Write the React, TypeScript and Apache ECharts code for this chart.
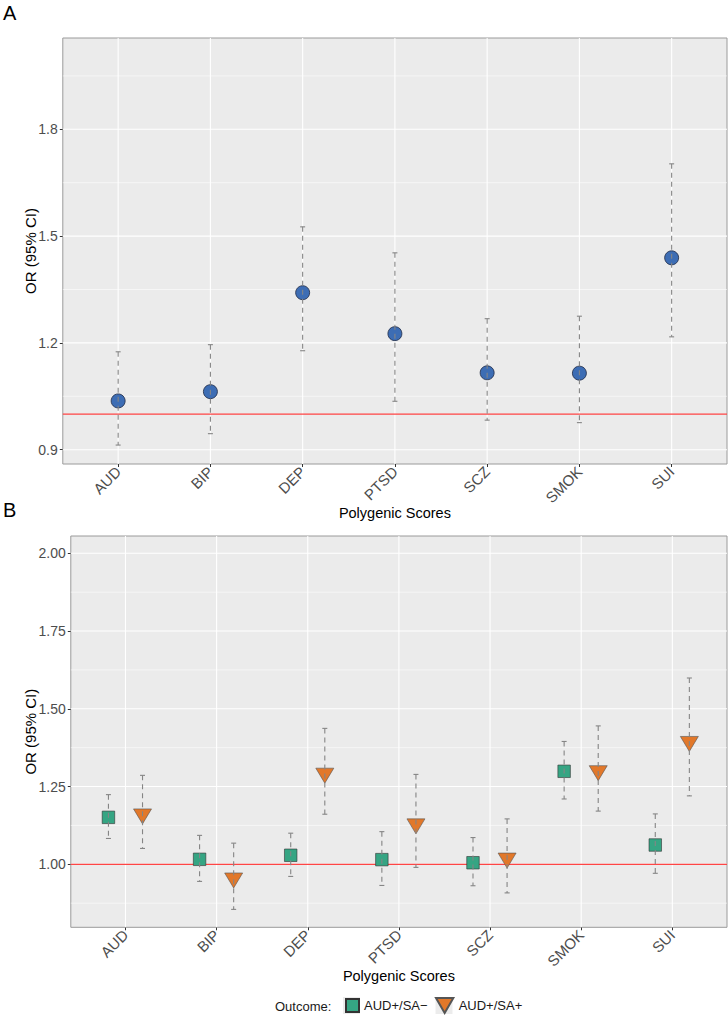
import React, { useEffect, useRef } from 'react';
import * as echarts from 'echarts';

// ---------- data ----------
const categories = ['AUD', 'BIP', 'DEP', 'PTSD', 'SCZ', 'SMOK', 'SUI'];

// Panel A
const orA = [1.037, 1.063, 1.341, 1.226, 1.116, 1.115, 1.439];
const lowA = [0.913, 0.945, 1.178, 1.036, 0.983, 0.976, 1.217];
const highA = [1.175, 1.195, 1.526, 1.453, 1.268, 1.275, 1.703];

// Panel B
const legendNames = ['AUD+/SA−', 'AUD+/SA+'];
const orNeg = [1.151, 1.016, 1.029, 1.015, 1.005, 1.299, 1.062];
const lowNeg = [1.083, 0.945, 0.961, 0.932, 0.931, 1.21, 0.971];
const highNeg = [1.224, 1.093, 1.1, 1.105, 1.086, 1.395, 1.162];
const orPos = [1.162, 0.956, 1.293, 1.13, 1.02, 1.301, 1.395];
const lowPos = [1.051, 0.855, 1.161, 0.99, 0.908, 1.171, 1.22];
const highPos = [1.286, 1.068, 1.437, 1.289, 1.146, 1.445, 1.599];

// ticks
const ticksA = [0.9, 1.2, 1.5, 1.8];
const minorTicksA = [1.05, 1.35, 1.65, 1.95];
const ticksB = [1.0, 1.25, 1.5, 1.75, 2.0];
const minorTicksB = [0.875, 1.125, 1.375, 1.625, 1.875];
const refValue = 1.0;
const rangeA = [0.8598, 2.0565];
const rangeB = [0.7974, 2.0556];
const xRange = [-0.6, 6.6];
const dodge = 0.187;

const FONT = '"Liberation Sans", Arial, Helvetica, sans-serif';

function gridLineData(ticks: number[], minor: number[]) {
  const d: number[][] = [];
  categories.forEach((_, i) => d.push([0, i, 1.1]));
  ticks.forEach((v) => d.push([1, v, 1.1]));
  minor.forEach((v) => d.push([1, v, 0.55]));
  return d;
}

function makeGridSeries(idx: number, yMin: number, data: number[][]) {
  return {
    type: 'custom',
    xAxisIndex: idx,
    yAxisIndex: idx,
    z: 1,
    silent: true,
    data,
    renderItem: (params: any, api: any) => {
      const cs = params.coordSys;
      const orient = api.value(0);
      const v = api.value(1);
      const w = api.value(2);
      if (orient === 0) {
        const x = api.coord([v, yMin])[0];
        return {
          type: 'line',
          shape: { x1: x, y1: cs.y, x2: x, y2: cs.y + cs.height },
          style: { stroke: '#ffffff', lineWidth: w },
        };
      }
      const y = api.coord([0, v])[1];
      return {
        type: 'line',
        shape: { x1: cs.x, y1: y, x2: cs.x + cs.width, y2: y },
        style: { stroke: '#ffffff', lineWidth: w },
      };
    },
  };
}

function makeRefSeries(idx: number) {
  return {
    type: 'custom',
    xAxisIndex: idx,
    yAxisIndex: idx,
    z: 2,
    silent: true,
    data: [[0, refValue]],
    renderItem: (params: any, api: any) => {
      const cs = params.coordSys;
      const y = api.coord([0, api.value(1)])[1];
      return {
        type: 'line',
        shape: { x1: cs.x, y1: y, x2: cs.x + cs.width, y2: y },
        style: { stroke: '#ff4545', lineWidth: 1.2 },
      };
    },
  };
}

function makeErrSeries(idx: number, data: number[][]) {
  return {
    type: 'custom',
    xAxisIndex: idx,
    yAxisIndex: idx,
    z: 4,
    silent: true,
    encode: { x: 0, y: [1, 2] },
    data,
    renderItem: (params: any, api: any) => {
      const x = api.value(0);
      const p1 = api.coord([x, api.value(2)]);
      const p2 = api.coord([x, api.value(1)]);
      const st = { stroke: '#858585', lineWidth: 1.1 };
      return {
        type: 'group',
        children: [
          {
            type: 'line',
            shape: { x1: p1[0], y1: p1[1], x2: p2[0], y2: p2[1] },
            style: { ...st, lineDash: [5, 4] },
          },
          {
            type: 'line',
            shape: { x1: p1[0] - 2.5, y1: p1[1], x2: p1[0] + 2.5, y2: p1[1] },
            style: st,
          },
          {
            type: 'line',
            shape: { x1: p2[0] - 2.5, y1: p2[1], x2: p2[0] + 2.5, y2: p2[1] },
            style: st,
          },
        ],
      };
    },
  };
}

const TRI = 'path://M0,0L20,0L10,17.32Z';

function xAxisCfg(idx: number) {
  const idxs = categories.map((_, i) => i);
  return {
    type: 'value',
    gridIndex: idx,
    min: xRange[0],
    max: xRange[1],
    splitLine: { show: false },
    axisLine: { show: false, onZero: false },
    axisTick: { show: true, length: 3, lineStyle: { color: '#333333' }, customValues: idxs },
    axisLabel: {
      customValues: idxs,
      formatter: (v: number) => categories[Math.round(v)],
      rotate: 45,
      fontSize: 15,
      color: '#4d4d4d',
      margin: 5,
      fontFamily: FONT,
    },
    name: 'Polygenic Scores',
    nameLocation: 'middle',
    nameGap: 41,
    nameMoveOverlap: false,
    nameTextStyle: { fontSize: 14.5, color: '#000000', fontFamily: FONT },
  };
}

function yAxisCfg(idx: number, range: number[], ticks: number[], digits: number, gap: number) {
  return {
    type: 'value',
    gridIndex: idx,
    min: range[0],
    max: range[1],
    splitLine: { show: false },
    axisLine: { show: false, onZero: false },
    axisTick: { show: true, length: 3, lineStyle: { color: '#333333' }, customValues: ticks },
    axisLabel: {
      customValues: ticks,
      formatter: (v: number) => v.toFixed(digits),
      fontSize: 14,
      color: '#4d4d4d',
      margin: 5,
      fontFamily: FONT,
    },
    name: 'OR (95% CI)',
    nameLocation: 'middle',
    nameRotate: 90,
    nameGap: gap,
    nameMoveOverlap: false,
    nameTextStyle: { fontSize: 15, color: '#000000', fontFamily: FONT },
  };
}

export default function App() {
  const ref = useRef<HTMLDivElement>(null);
  useEffect(() => {
    if (!ref.current) return;
    const chart = echarts.init(ref.current, undefined, { renderer: 'svg' });
    const gridStyle = {
      show: true,
      backgroundColor: '#ebebeb',
      borderColor: '#9a9a9a',
      borderWidth: 1,
      outerBoundsMode: 'none',
      containLabel: false,
    };
    const option: any = {
      animation: false,
      backgroundColor: '#ffffff',
      textStyle: { fontFamily: FONT },
      grid: [
        { ...gridStyle, left: 62.8, top: 38, right: 1, height: 426 },
        { ...gridStyle, left: 70.8, top: 536, right: 1, height: 391.3 },
      ],
      xAxis: [xAxisCfg(0), xAxisCfg(1)],
      yAxis: [yAxisCfg(0, rangeA, ticksA, 1, 25), yAxisCfg(1, rangeB, ticksB, 2, 33)],
      legend: [
        {
          data: [{ name: legendNames[0], icon: 'rect' }],
          left: 345,
          top: 998,
          padding: 0,
          itemWidth: 13,
          itemHeight: 13,
          itemGap: 5,
          selectedMode: false,
          textStyle: { fontSize: 13, color: '#1a1a1a', fontFamily: FONT },
        },
        {
          data: [{ name: legendNames[1], icon: TRI }],
          left: 435,
          top: 997,
          padding: 0,
          itemWidth: 18,
          itemHeight: 15,
          itemGap: 5,
          selectedMode: false,
          textStyle: { fontSize: 13, color: '#1a1a1a', fontFamily: FONT },
        },
      ],
      graphic: [
        {
          type: 'rect',
          z: 0,
          shape: { x: 343, y: 997, width: 17, height: 17 },
          style: { fill: '#ececec' },
        },
        {
          type: 'rect',
          z: 0,
          shape: { x: 435.5, y: 997, width: 17, height: 17 },
          style: { fill: '#ececec' },
        },
        {
          type: 'text',
          x: 3,
          y: 13,
          style: { text: 'A', fontSize: 20, fill: '#000', fontFamily: FONT, verticalAlign: 'middle' },
        },
        {
          type: 'text',
          x: 3,
          y: 510,
          style: { text: 'B', fontSize: 20, fill: '#000', fontFamily: FONT, verticalAlign: 'middle' },
        },
        {
          type: 'text',
          x: 275,
          y: 1006,
          style: { text: 'Outcome:', fontSize: 13, fill: '#1a1a1a', fontFamily: FONT, verticalAlign: 'middle' },
        },
      ],
      series: [
        makeGridSeries(0, rangeA[0], gridLineData(ticksA, minorTicksA)),
        makeRefSeries(0),
        {
          type: 'scatter',
          name: 'OR',
          xAxisIndex: 0,
          yAxisIndex: 0,
          z: 3,
          symbol: 'circle',
          symbolSize: 14,
          itemStyle: { color: '#3d6db4', borderColor: '#1f2a44', borderWidth: 0.8, opacity: 1 },
          data: orA.map((v, i) => [i, v]),
        },
        makeErrSeries(0, orA.map((_, i) => [i, lowA[i], highA[i]])),

        makeGridSeries(1, rangeB[0], gridLineData(ticksB, minorTicksB)),
        makeRefSeries(1),
        {
          type: 'scatter',
          name: legendNames[0],
          xAxisIndex: 1,
          yAxisIndex: 1,
          z: 3,
          symbol: 'rect',
          symbolSize: 12.5,
          itemStyle: { color: '#35a583', borderColor: '#333333', borderWidth: 0.6, opacity: 1 },
          data: orNeg.map((v, i) => [i - dodge, v]),
        },
        {
          type: 'scatter',
          name: legendNames[1],
          xAxisIndex: 1,
          yAxisIndex: 1,
          z: 3,
          symbol: TRI,
          symbolSize: [18, 15],
          symbolOffset: [0, 2.5],
          itemStyle: { color: '#e2782a', borderColor: '#555555', borderWidth: 0.6, opacity: 1 },
          data: orPos.map((v, i) => [i + dodge, v]),
        },
        makeErrSeries(1, orNeg.map((_, i) => [i - dodge, lowNeg[i], highNeg[i]])),
        makeErrSeries(1, orPos.map((_, i) => [i + dodge, lowPos[i], highPos[i]])),
      ],
    };
    chart.setOption(option);
    return () => chart.dispose();
  }, []);
  return (
    <div
      ref={ref}
      style={{ position: 'absolute', left: 0, top: 0, width: 728, height: 1019, background: '#fff' }}
    />
  );
}
